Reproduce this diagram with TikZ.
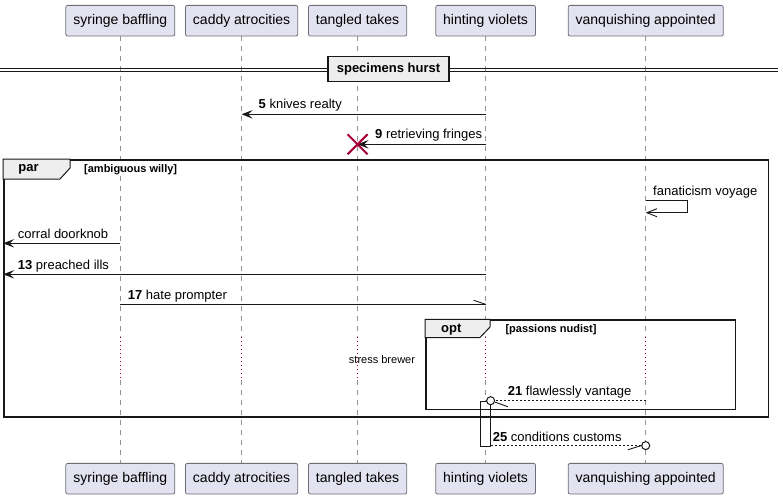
\documentclass[tikz,border=0pt]{standalone}
\usepackage{fontspec}
\setmainfont{Liberation Sans}
\usetikzlibrary{arrows.meta,calc}

\definecolor{partfill}{HTML}{E2E2F0}
\definecolor{partline}{HTML}{6E6E78}
\definecolor{tabfill}{HTML}{EEEEEE}
\definecolor{alertred}{HTML}{A80036}
\definecolor{ink}{HTML}{181818}

\tikzset{
  participant/.style={draw=partline, fill=partfill, rounded corners=2pt,
    line width=0.8pt, minimum height=30.7pt, inner xsep=7.5pt, inner ysep=0pt,
    font=\fontsize{14}{16}\selectfont},
  lifeline/.style={draw=gray!85, line width=0.7pt, dash pattern=on 5pt off 5pt},
  delayline/.style={draw=alertred, line width=1pt, dash pattern=on 1.2pt off 2.8pt},
  msg/.style={draw=ink, line width=0.9pt},
  sync/.style={msg, -{Stealth[length=11pt,width=8.5pt,inset=4.5pt]}},
  openhead/.style={msg, -{Straight Barb[length=10pt,width=8pt]}},
  reply/.style={msg, dash pattern=on 2pt off 2pt},
  msglabel/.style={anchor=base west, inner sep=0pt, font=\fontsize{13}{15}\selectfont},
  frameline/.style={draw=ink, line width=1.5pt, inner sep=0pt},
  tabshape/.style={draw=ink, fill=tabfill, line width=1pt},
  tablabel/.style={inner sep=0pt, font=\fontsize{13}{15}\selectfont\bfseries},
  guardlabel/.style={anchor=west, inner sep=0pt, font=\fontsize{11}{13}\selectfont\bfseries},
  endcircle/.style={circle, draw=ink, fill=white, line width=1pt,
    minimum size=8pt, inner sep=0pt},
  destroymark/.style={draw=alertred, line width=2pt},
}

\begin{document}
\begin{tikzpicture}[x=1pt, y=-1pt]
\useasboundingbox (0,0) rectangle (783,499);

% participants, head and foot
\foreach \id/\xx/\name in {sy/120.3/syringe baffling, ca/241.6/caddy atrocities,
    ta/357.6/tangled takes, hv/485.6/hinting violets, va/645.7/vanquishing appointed}{
  \node[participant] (\id T) at (\xx,20.7) {\name};
  \node[participant] (\id B) at (\xx,478.7) {\name};
}

% rows of the diagram
\coordinate (dl1) at (0,337);
\coordinate (dl2) at (0,380);
\coordinate (m5)  at (0,114.3);
\coordinate (m9)  at (0,144.3);
\coordinate (fv1) at (0,200);
\coordinate (fv2) at (0,212.7);
\coordinate (m11) at (0,243.3);
\coordinate (m13) at (0,274.3);
\coordinate (m17) at (0,304.3);
\coordinate (m25) at (0,446);

% lifelines, with the delay drawn dotted
\foreach \id in {sy,ca,ta,hv,va}{
  \draw[lifeline] (\id T.south) -- (\id T |- dl1);
  \draw[delayline] (\id T |- dl1) -- (\id T |- dl2);
  \draw[lifeline] (\id T |- dl2) -- (\id B.north);
}
\node[inner sep=0pt, font=\fontsize{11}{13}\selectfont] (delay) at (382,359.3) {stress brewer};

% divider
\draw[ink, line width=0.9pt] (0,68.5) -- (778,68.5);
\draw[ink, line width=0.9pt] (0,71.5) -- (778,71.5);
\node[draw=ink, fill=tabfill, line width=1.5pt, minimum width=121pt, minimum height=25pt,
  inner sep=0pt, font=\fontsize{13}{15}\selectfont\bfseries] (divider) at (388.5,69.2) {specimens hurst};

% 5 and 9
\draw[sync] (hvT |- m5) -- (caT |- m5);
\node[msglabel] (l5) at (258.5,108.8) {\textbf{5} knives realty};
\draw[sync] (hvT |- m9) -- (taT |- m9);
\node[msglabel] (l9) at (375,138.8) {\textbf{9} retrieving fringes};
\coordinate (x9) at (taT |- m9);
\draw[destroymark] ($(x9)+(-10,-10)$) -- ($(x9)+(10,10)$);
\draw[destroymark] ($(x9)+(-10,10)$) -- ($(x9)+(10,-10)$);

% activation bar on hinting violets
\node[draw=ink, fill=white, line width=0.9pt, minimum width=10pt, minimum height=45pt,
  inner sep=0pt, anchor=north] (act) at (485.7,400.7) {};

% par frame
\node[frameline, minimum width=764.3pt, minimum height=257pt, anchor=north west] (par) at (3.2,159.2) {};
\draw[tabshape] (3.2,159.2) -- (70,159.2) -- (70,168) -- (60,179) -- (3.2,179) -- cycle;
\node[tablabel] (parlab) at (28.5,169.5) {par};
\node[guardlabel] (parguard) at (84,169.3) {[ambiguous willy]};

% self message
\draw[msg] (vaT |- fv1) -- ++(41.5,0) coordinate (fvr) -- (fvr |- fv2);
\draw[openhead] (fvr |- fv2) -- (vaT |- fv2);
\node[msglabel] (lfv) at (653,195.8) {fanaticism voyage};

% 11, 13, 17
\draw[sync] (syT |- m11) -- (par.west |- m11);
\node[msglabel] (l11) at (17.7,238) {corral doorknob};
\draw[sync] (hvT |- m13) -- (par.west |- m13);
\node[msglabel] (l13) at (17.7,269) {\textbf{13} preached ills};
\draw[msg] (syT |- m17) -- (hvT |- m17);
\draw[msg] (hvT |- m17) -- ++(-12,-4);
\node[msglabel] (l17) at (127.7,299) {\textbf{17} hate prompter};

% opt frame
\node[frameline, minimum width=309.5pt, minimum height=89.5pt, anchor=north west] (opt) at (425,319.3) {};
\draw[tabshape] (425,319.3) -- (490,319.3) -- (490,327) -- (480,337.5) -- (425,337.5) -- cycle;
\node[tablabel] (optlab) at (451.3,330) {opt};
\node[guardlabel] (optguard) at (505.3,329.3) {[passions nudist]};

% 21
\node[endcircle] (c21) at (490.6,400.7) {};
\draw[reply] (vaT |- c21) -- (c21.east);
\draw[msg] ($(c21)+(4.6,1.4)$) -- ++(12.5,4.6);
\node[msglabel] (l21) at (507.7,395.6) {\textbf{21} flawlessly vantage};

% 25
\node[endcircle] (c25) at (645.7,445.6) {};
\draw[reply] (act.east |- c25) -- (c25.west);
\draw[msg] (c25.west) -- ++(-13.5,4.2);
\node[msglabel] (l25) at (492.7,441) {\textbf{25} conditions customs};
\end{tikzpicture}
\end{document}
